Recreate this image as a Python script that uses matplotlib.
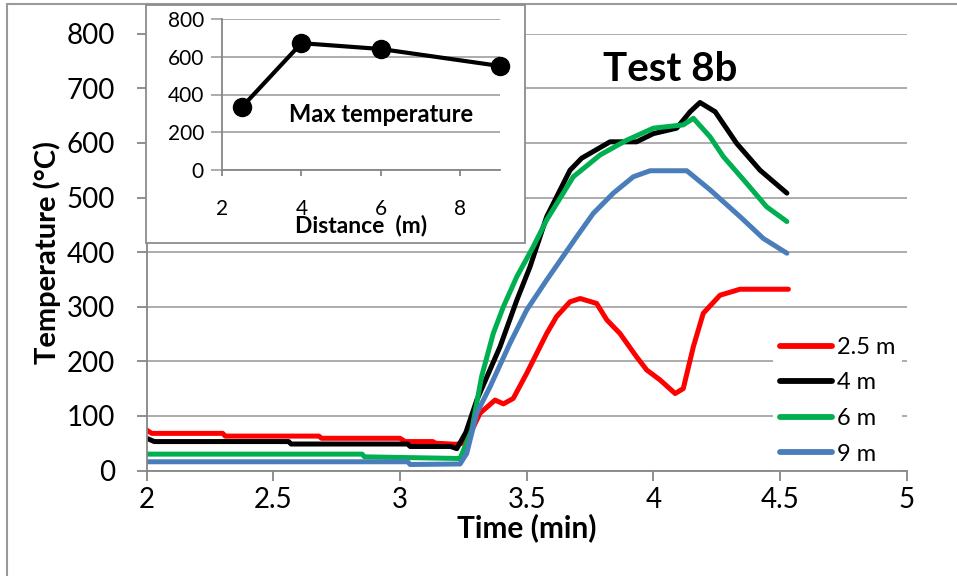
import numpy as np
import matplotlib
matplotlib.use('Agg')
import matplotlib.pyplot as plt
from matplotlib.patches import Rectangle

plt.rcParams['font.family'] = ['Lato', 'DejaVu Sans']

# temperature histories (time in min, temperature in C)
t_25 = [2.0, 2.02, 2.30, 2.31, 2.68, 2.69, 3.0, 3.02, 3.13, 3.14, 3.22, 3.25, 3.29, 3.316, 3.375,
        3.408, 3.447, 3.5, 3.579, 3.618, 3.671, 3.711, 3.776, 3.816, 3.868, 3.934, 3.974, 4.026,
        4.086, 4.118, 4.158, 4.197, 4.263, 4.342, 4.533]
T_25 = [74, 68, 68, 63, 63, 59, 59, 53, 53, 50, 48, 50, 80, 105, 129,
        122, 132, 178, 251, 282, 309, 315, 306, 276, 251, 208, 184, 166,
        141, 150, 227, 288, 321, 332, 332]

t_4 = [2.0, 2.03, 2.56, 2.57, 3.03, 3.04, 3.2, 3.224, 3.26, 3.303, 3.395, 3.461, 3.513, 3.579,
       3.671, 3.717, 3.829, 3.934, 4.0, 4.092, 4.145, 4.184, 4.244, 4.329, 4.421, 4.527]
T_4 = [59, 53, 53, 48.5, 48.5, 44, 44, 40, 70, 129, 227, 312, 373, 465,
       550, 572, 602, 602, 617, 627, 657, 674, 657, 599, 550, 508]

t_6 = [2.0, 2.85, 2.86, 3.237, 3.283, 3.322, 3.368, 3.408, 3.461, 3.526, 3.579, 3.684, 3.790,
       3.895, 4.0, 4.118, 4.158, 4.224, 4.276, 4.368, 4.447, 4.527]
T_6 = [30, 30, 25, 22, 74, 172, 251, 300, 355, 410, 459, 538, 578,
       605, 627, 633, 645, 611, 575, 526, 483, 456]

t_9 = [2.0, 3.03, 3.04, 3.237, 3.263, 3.303, 3.355, 3.434, 3.5, 3.579, 3.697, 3.763, 3.842,
       3.921, 3.987, 4.132, 4.224, 4.342, 4.434, 4.527]
T_9 = [16, 16, 11, 12, 31, 105, 153, 233, 294, 349, 428, 471, 508,
       538, 549, 549, 514, 465, 425, 398]

labels = ['2.5 m', '4 m', '6 m', '9 m']
colors = ['#ff0000', '#000000', '#00b050', '#4a7ebb']

# inset: max temperature vs distance
dist = [2.5, 4, 6, 9]
max_T = [333, 672, 641, 551]

grid_c = '#a6a6a6'
axis_c = '#868686'

fig = plt.figure(figsize=(9.57, 5.76), dpi=100)
fig.patches.append(Rectangle((7 / 957, -0.1), 1.1, (576 - 4) / 576 + 0.1, transform=fig.transFigure,
                             fill=False, edgecolor='#9a9a9a', linewidth=1.5, zorder=0))

ax = fig.add_axes([146.7 / 957, (576 - 470.5) / 576, 760 / 957, 436.8 / 576])
series = [(t_25, T_25), (t_4, T_4), (t_6, T_6), (t_9, T_9)]
for (tt, TT), lab, col in zip(series, labels, colors):
    ax.plot(tt, TT, color=col, lw=3.6, label=lab, solid_capstyle='round', zorder=3)

ax.set_xlim(2, 5)
ax.set_ylim(0, 800)
ax.set_xticks([2, 2.5, 3, 3.5, 4, 4.5, 5])
ax.set_xticklabels(['2', '2.5', '3', '3.5', '4', '4.5', '5'])
ax.set_yticks(range(0, 801, 100))
ax.yaxis.grid(True, color=grid_c, lw=1.3)
ax.set_axisbelow(True)
for s in ['top', 'right']:
    ax.spines[s].set_visible(False)
for s in ['left', 'bottom']:
    ax.spines[s].set_color(axis_c)
    ax.spines[s].set_linewidth(1.3)
    ax.spines[s].set_zorder(4)
ax.tick_params(axis='both', direction='out', color=axis_c, width=1.3, length=7, labelsize=20)
ax.tick_params(axis='y', pad=16)
ax.tick_params(axis='x', pad=5)
ax.set_xlabel('Time (min)', fontsize=21.5, fontweight='bold', labelpad=0)
ax.set_ylabel('Temperature (°C)', fontsize=21, fontweight='bold', labelpad=4)
ax.text(0.689, 0.917, 'Test 8b', transform=ax.transAxes, fontsize=29, fontweight='bold',
        ha='center', va='center')

leg = ax.legend(loc='lower right', bbox_to_anchor=(1.01, -0.03), fontsize=17, frameon=True,
                fancybox=False, edgecolor='none', facecolor='white', framealpha=1,
                handlelength=2.2, handletextpad=0.2, labelspacing=0.62, borderpad=0.3)
leg.set_zorder(3.5)
for h in leg.get_lines():
    h.set_linewidth(4.2)

# inset box
fig.patches.append(Rectangle((146 / 957, (576 - 243) / 576), 379 / 957, 238 / 576,
                             transform=fig.transFigure, facecolor='white',
                             edgecolor='#8c8c8c', linewidth=1.3, zorder=2))
ins = fig.add_axes([222 / 957, (576 - 170) / 576, 278 / 957, 151 / 576])
ins.set_zorder(6)
ins.patch.set_alpha(0)
ins.plot(dist, max_T, color='black', lw=3, marker='o', markersize=13, zorder=3, clip_on=False)
ins.set_xlim(2, 9)
ins.set_ylim(0, 800)
ins.set_xticks([2, 4, 6, 8])
ins.set_yticks(range(0, 801, 200))
ins.yaxis.grid(True, color=grid_c, lw=1.3)
ins.set_axisbelow(True)
for s in ['top', 'right']:
    ins.spines[s].set_visible(False)
for s in ['left', 'bottom']:
    ins.spines[s].set_color(axis_c)
    ins.spines[s].set_linewidth(1.3)
ins.tick_params(axis='y', direction='out', color=grid_c, width=1.3, length=8, labelsize=15, pad=5)
ins.tick_params(axis='x', direction='out', color=axis_c, width=1.3, length=4, labelsize=15, pad=17)
ins.set_xlabel('Distance  (m)', fontsize=16.5, fontweight='bold', labelpad=-3)
ins.text(6, 292, 'Max temperature', fontsize=17, fontweight='bold', ha='center', va='center')

fig.savefig('out.png', dpi=100)
